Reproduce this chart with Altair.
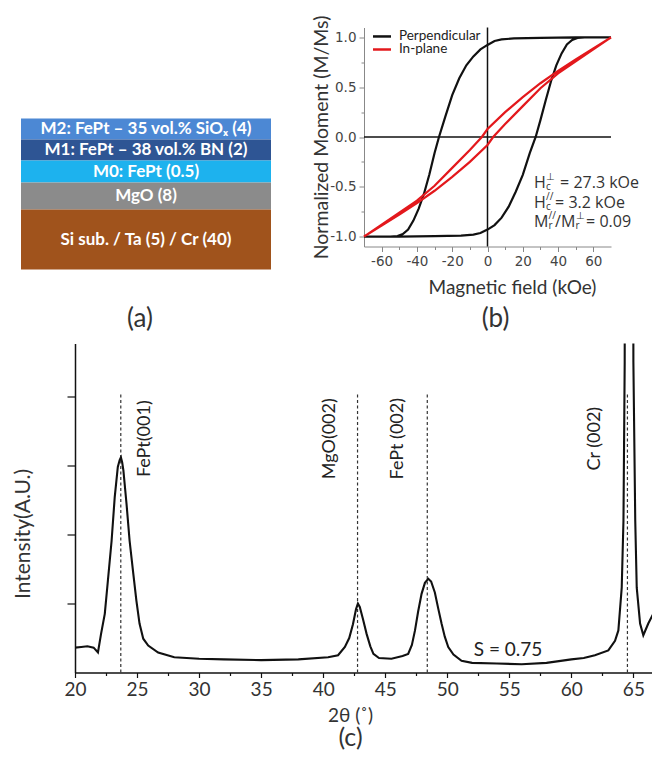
import altair as alt
import pandas as pd

FONT = "Lato"
TICKFONT = "DejaVu Sans"
ANNFONT = "Open Sans"

# ---------------- (a) film stack (schematic) ----------------
layer_labels = ["M2: FePt – 35 vol.% SiOₓ (4)", "M1: FePt – 38 vol.% BN (2)",
                "M0: FePt (0.5)", "MgO (8)", "Si sub. / Ta (5) / Cr (40)"]
layer_colors = ["#4c88d4", "#2e5594", "#1db2ee", "#8b8b8b", "#a0531c"]
layer_heights = [21, 21, 22, 27, 60]  # drawn thickness (schematic, not to scale)

# ---------------- (b) hysteresis loops ----------------
perp_up_h = [-70, -50, -30, -15, -8, -4, 0, 4, 8, 12, 16, 20, 24, 27.3, 30, 33, 36, 39, 42, 45, 48, 51, 55, 70]
perp_up_m = [-1.0, -1.0, -0.995, -0.99, -0.98, -0.965, -0.93, -0.885, -0.81, -0.7, -0.55, -0.38, -0.16, 0.0,
             0.17, 0.37, 0.56, 0.72, 0.84, 0.93, 0.975, 0.995, 1.0, 1.0]
perp_dn_h = [70, 50, 30, 15, 8, 4, 0, -4, -8, -12, -16, -20, -24, -27.5, -30, -33, -36, -39, -42, -45, -48, -51, -55, -70]
perp_dn_m = [1.0, 1.0, 0.995, 0.99, 0.98, 0.965, 0.925, 0.88, 0.81, 0.72, 0.59, 0.42, 0.2, 0.0,
             -0.16, -0.38, -0.57, -0.72, -0.84, -0.93, -0.975, -0.995, -1.0, -1.0]
inpl_up_h = [-70, -60, -50, -40, -30, -20, -10, 0, 3.2, 10, 20, 30, 40, 50, 60, 70]
inpl_up_m = [-1.0, -0.89, -0.78, -0.665, -0.54, -0.4, -0.25, -0.08, 0.0, 0.13, 0.31, 0.49, 0.64, 0.76, 0.88, 1.0]
inpl_dn_h = [70, 60, 50, 40, 30, 20, 10, 0, -3.2, -10, -20, -30, -40, -50, -60, -70]
inpl_dn_m = [1.0, 0.89, 0.78, 0.665, 0.54, 0.4, 0.25, 0.08, 0.0, -0.13, -0.31, -0.49, -0.64, -0.76, -0.88, -1.0]
series_names = ["Perpendicular", "In-plane"]
series_colors = ["#111111", "#e3181c"]

# ---------------- (c) XRD pattern ----------------
xrd_2theta = [20.0, 20.5, 21.0, 21.5, 21.85, 22.1, 22.4, 22.65, 22.95, 23.2, 23.45, 23.6, 23.7, 23.8, 23.9,
              24.15, 24.4, 24.7, 24.95, 25.2, 25.5, 25.9, 26.7, 28.0, 30.0, 32.0, 35.0, 38.0, 40.4, 41.2,
              41.75, 42.1, 42.4, 42.65, 42.8, 42.95, 43.2, 43.5, 43.8, 44.05, 44.5, 45.5, 46.4, 46.85, 47.15,
              47.4, 47.65, 47.93, 48.2, 48.47, 48.7, 49.0, 49.27, 49.54, 49.8, 50.08, 50.5, 51.15, 52.0, 54.0,
              56.0, 58.0, 60.0, 61.0, 61.9, 62.98, 63.52, 63.79, 64.06, 64.2, 64.3, 64.4, 64.9, 65.0, 65.15,
              65.27, 65.54, 65.8, 66.2, 66.6, 67.0]
xrd_int = [0.36, 0.37, 0.38, 0.36, 0.29, 0.56, 0.85, 1.33, 1.91, 2.54, 2.98, 3.08, 3.12, 3.05, 2.93,
           2.45, 1.91, 1.43, 1.04, 0.71, 0.49, 0.39, 0.29, 0.22, 0.2, 0.19, 0.18, 0.19, 0.22, 0.25,
           0.37, 0.5, 0.7, 0.92, 1.0, 0.95, 0.78, 0.56, 0.38, 0.27, 0.21, 0.2, 0.24, 0.27, 0.4,
           0.61, 0.88, 1.14, 1.3, 1.36, 1.32, 1.16, 0.93, 0.71, 0.52, 0.37, 0.26, 0.17, 0.14, 0.13,
           0.12, 0.14, 0.19, 0.21, 0.25, 0.32, 0.46, 0.61, 1.23, 2.2, 4.5, 20.0, 20.0, 4.5, 2.2,
           1.23, 0.71, 0.54, 0.71, 0.85, 1.09]
peak_names = ["FePt(001)", "MgO(002)", "FePt (002)", "Cr (002)"]
peak_pos = [23.69, 42.77, 48.39, 64.52]
peak_label_x = [25.65, 40.56, 46.05, 61.94]
peak_label_y = 3.39
peak_line_top = 4.06
order_param_text = "S = 0.75"
order_param_pos = (54.9, 0.33)

# ======================= panel (a) =======================
tops, bots = [], []
cur = sum(layer_heights)
for h in layer_heights:
    tops.append(cur)
    bots.append(cur - h)
    cur -= h
a_df = pd.DataFrame({"label": layer_labels, "color": layer_colors, "y0": bots, "y1": tops,
                     "ym": [(a + b) / 2 for a, b in zip(bots, tops)], "x0": 0, "x1": 1, "xm": 0.5})
# the stack extends left of this panel's origin (which is aligned with panel (c)'s plot)
ax_a = alt.X("x0:Q", scale=alt.Scale(domain=[0.216, 1], nice=False, zero=False), axis=None)
ay_a = alt.Y("y0:Q", scale=alt.Scale(domain=[0, 242], nice=False), axis=None)
a_rect = alt.Chart(a_df).mark_rect().encode(x=ax_a, x2="x1:Q", y=ay_a, y2="y1:Q",
                                            color=alt.Color("color:N", scale=None))
a_text = alt.Chart(a_df).mark_text(font=FONT, fontSize=17, fontWeight="bold", color="white").encode(
    x=alt.X("xm:Q"), y=alt.Y("ym:Q"), text="label:N")
panel_a = alt.layer(a_rect, a_text).properties(
    width=196, height=242,
    title=alt.TitleParams("(a)", orient="bottom", anchor="middle", font=FONT, fontSize=26,
                          fontWeight="normal", color="#333333", offset=36, dx=-33))

# ======================= panel (b) =======================
rows = []
for name, hs, ms in [("Perpendicular", perp_up_h + perp_dn_h, perp_up_m + perp_dn_m),
                     ("In-plane", inpl_up_h + inpl_dn_h, inpl_up_m + inpl_dn_m)]:
    for i, (h, m) in enumerate(zip(hs, ms)):
        rows.append({"series": name, "H": h, "M": m, "idx": i})
loop_df = pd.DataFrame(rows)

xb_scale = alt.Scale(domain=[-70, 70], nice=False, zero=False)
yb_scale = alt.Scale(domain=[-1.1, 1.1], nice=False, zero=False)
xb_axis = alt.Axis(values=list(range(-60, 61, 10)),
                   labelExpr="datum.value % 20 === 0 ? datum.value + '' : ''",
                   tickSize={"condition": {"test": "datum.value % 20 === 0", "value": 5}, "value": 3},
                   labelPadding=2.5, labelFont=TICKFONT, labelFontSize=13.5, labelColor="#444444",
                   labelFlush=False, domainColor="#888888", tickColor="#888888", grid=False,
                   title="Magnetic field (kOe)", titleFont=FONT, titleFontSize=19, titleFontWeight="normal",
                   titleColor="#333333", titleX=148, titleY=41, titleBaseline="middle", titleAlign="center")
yb_axis = alt.Axis(values=[-1, -0.75, -0.5, -0.25, 0, 0.25, 0.5, 0.75, 1],
                   labelExpr="abs(datum.value) % 0.5 < 0.001 ? (datum.value < 0 ? '-' : '') + format(abs(datum.value), '.1f') : ''",
                   tickSize={"condition": {"test": "abs(datum.value) % 0.5 < 0.001", "value": 5}, "value": 3},
                   labelPadding=3, labelFont=TICKFONT, labelFontSize=13.5, labelColor="#444444",
                   labelFlush=False, domainColor="#888888", tickColor="#888888", grid=False,
                   title="Normalized Moment (M/Ms)", titleFont=FONT, titleFontSize=19.5, titleFontWeight="normal",
                   titleColor="#333333", titleX=-43, titleY=109.5, titleAngle=270,
                   titleBaseline="middle", titleAlign="center")

zero_df = pd.DataFrame({"v": [0]})
hrule = alt.Chart(zero_df).mark_rule(color="#111111", strokeWidth=1.5).encode(
    y=alt.Y("v:Q", scale=yb_scale, axis=yb_axis))
vrule = alt.Chart(zero_df).mark_rule(color="#111111", strokeWidth=1.5).encode(
    x=alt.X("v:Q", scale=xb_scale, axis=xb_axis))
loops = alt.Chart(loop_df).mark_line(strokeWidth=2.2).encode(
    x=alt.X("H:Q", scale=xb_scale, axis=xb_axis),
    y=alt.Y("M:Q", scale=yb_scale, axis=yb_axis),
    order="idx:Q",
    color=alt.Color("series:N", scale=alt.Scale(domain=series_names, range=series_colors), legend=None))

# hand-drawn legend inside the panel (top-left)
leg_df = pd.DataFrame({"series": series_names, "x0": -64.9, "x1": -54.7, "xt": -50.2, "y": [1.01, 0.879]})
leg_lines = alt.Chart(leg_df).mark_rule(strokeWidth=2.5).encode(
    x=alt.X("x0:Q", scale=xb_scale, axis=xb_axis), x2="x1:Q",
    y=alt.Y("y:Q", scale=yb_scale, axis=yb_axis),
    color=alt.Color("series:N", scale=alt.Scale(domain=series_names, range=series_colors), legend=None))
leg_text = alt.Chart(leg_df).mark_text(font=FONT, fontSize=13.5, color="#222222", align="left",
                                       baseline="middle").encode(
    x=alt.X("xt:Q", scale=xb_scale, axis=xb_axis), y=alt.Y("y:Q", scale=yb_scale, axis=yb_axis),
    text="series:N")

# annotation pieces: (line, text, dx, dy, fontsize)
ann_x = 26.4
ann_lines_y = [-0.458, -0.659, -0.85]
ann_pieces = [
    (0, "H", 0, 0, 16), (0, "c", 12, 4.5, 10), (0, "⊥", 12, -5.5, 10), (0, "= 27.3 kOe", 26, 0, 16),
    (1, "H", 0, 0, 16), (1, "c", 12, 4.5, 10), (1, "//", 12, -5.5, 10), (1, "= 3.2 kOe", 21, 0, 16),
    (2, "M", 0, 0, 16), (2, "r", 14.5, 4.5, 10), (2, "//", 14.5, -5.5, 10), (2, "/M", 21, 0, 16),
    (2, "r", 41.5, 4.5, 10), (2, "⊥", 41.5, -5.5, 10), (2, "= 0.09", 52, 0, 16),
]
ann_layers = []
for line, txt, dx, dy, fs in ann_pieces:
    d = pd.DataFrame({"x": [ann_x], "y": [ann_lines_y[line]], "t": [txt]})
    ann_layers.append(alt.Chart(d).mark_text(font=ANNFONT, fontSize=fs, color="#333333", align="left",
                                             baseline="middle", dx=dx, dy=dy).encode(
        x=alt.X("x:Q", scale=xb_scale, axis=xb_axis), y=alt.Y("y:Q", scale=yb_scale, axis=yb_axis),
        text="t:N"))

panel_b = alt.layer(hrule, vrule, loops, leg_lines, leg_text, *ann_layers).properties(
    width=247, height=219,
    title=alt.TitleParams("(b)", orient="bottom", anchor="middle", font=FONT, fontSize=26,
                          fontWeight="normal", color="#333333", offset=8.5, dx=8))

# ======================= panel (c) =======================
xrd_df = pd.DataFrame({"tt": xrd_2theta, "I": xrd_int})
peaks_df = pd.DataFrame({"name": peak_names, "pos": peak_pos, "lx": peak_label_x,
                         "ly": peak_label_y, "y0": 0.0, "y1": peak_line_top})
s_df = pd.DataFrame({"x": [order_param_pos[0]], "y": [order_param_pos[1]], "t": [order_param_text]})

xc_scale = alt.Scale(domain=[20, 66.5], nice=False, zero=False)
yc_scale = alt.Scale(domain=[0, 4.77], nice=False, zero=False)
xc_axis = alt.Axis(values=[20 + 2.5 * k for k in range(19)],
                   labelExpr="datum.value % 5 === 0 ? datum.value + '' : ''",
                   tickSize={"condition": {"test": "datum.value % 5 === 0", "value": 5}, "value": 3},
                   labelPadding=2.5, labelFont=FONT, labelFontSize=19, labelColor="#333333", labelFlush=False,
                   domainColor="#111111", domainWidth=1.5, tickColor="#111111", tickWidth=1.2, grid=False,
                   title="2θ (˚)", titleFont=FONT, titleFontSize=19, titleFontWeight="normal",
                   titleColor="#333333", titleX=275, titleY=43, titleBaseline="middle", titleAlign="center")
yc_axis = alt.Axis(values=[1, 2, 3, 4], labels=False, tickSize=8, tickColor="#111111", tickWidth=1.2,
                   domainColor="#111111", domainWidth=1.5, grid=False,
                   title="Intensity(A.U.)", titleFont=FONT, titleFontSize=21, titleFontWeight="normal",
                   titleColor="#333333", titleX=-52, titleY=190, titleAngle=270,
                   titleBaseline="middle", titleAlign="center")

dash = alt.Chart(peaks_df).mark_rule(strokeDash=[3, 2.5], strokeWidth=1.2, color="#333333").encode(
    x=alt.X("pos:Q", scale=xc_scale, axis=xc_axis), y=alt.Y("y0:Q", scale=yc_scale, axis=yc_axis), y2="y1:Q")
xrd_line = alt.Chart(xrd_df).mark_line(clip=True, color="#111111", strokeWidth=2.1).encode(
    x=alt.X("tt:Q", scale=xc_scale, axis=xc_axis), y=alt.Y("I:Q", scale=yc_scale, axis=yc_axis))
peak_text = alt.Chart(peaks_df).mark_text(angle=270, font=FONT, fontSize=18, color="#222222",
                                          align="center", baseline="middle").encode(
    x=alt.X("lx:Q", scale=xc_scale, axis=xc_axis), y=alt.Y("ly:Q", scale=yc_scale, axis=yc_axis), text="name:N")
s_text = alt.Chart(s_df).mark_text(font=FONT, fontSize=19, color="#222222", align="center",
                                   baseline="middle").encode(
    x=alt.X("x:Q", scale=xc_scale, axis=xc_axis), y=alt.Y("y:Q", scale=yc_scale, axis=yc_axis), text="t:N")

panel_c = alt.layer(dash, xrd_line, peak_text, s_text).properties(
    width=577, height=329,
    title=alt.TitleParams("(c)", orient="bottom", anchor="middle", font=FONT, fontSize=25,
                          fontWeight="normal", color="#333333", offset=0, dx=-13))

top_row = alt.hconcat(panel_a, panel_b, spacing=39)
chart = alt.vconcat(top_row, panel_c, spacing=11).properties(
    padding={"left": 4, "top": 6.5, "right": 0, "bottom": 0}
).configure_view(stroke=None)

chart.save("out.html", embed_options={"renderer": "svg", "actions": False})
